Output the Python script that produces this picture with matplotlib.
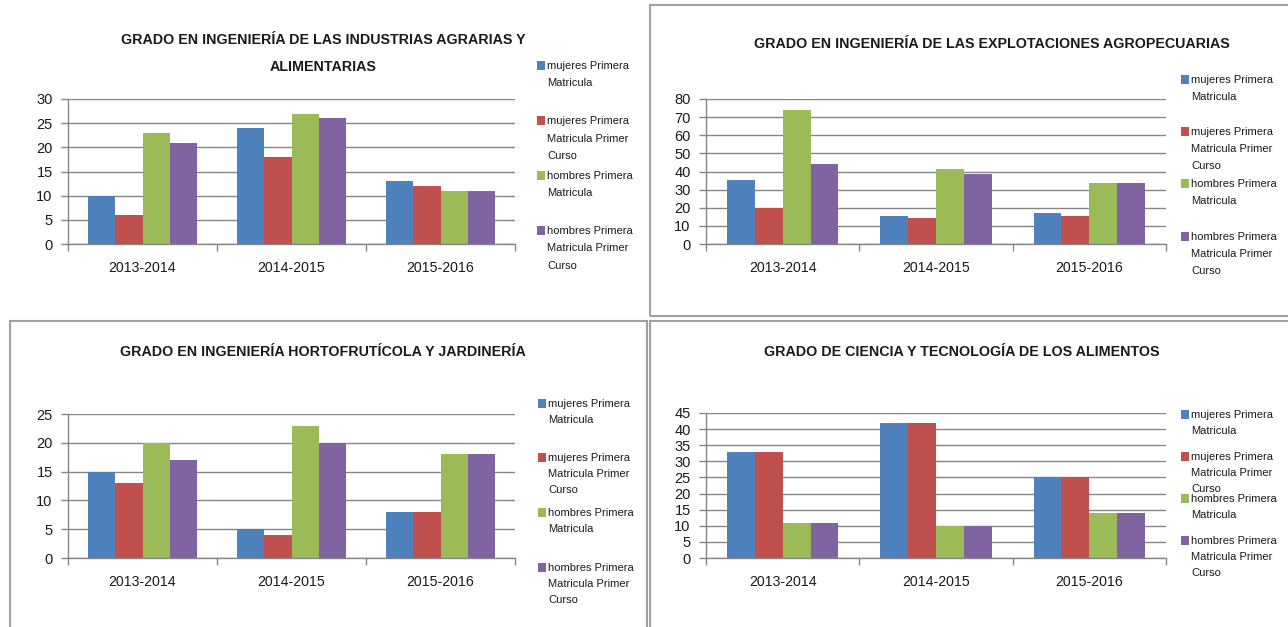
import matplotlib
matplotlib.use('Agg')
import matplotlib.pyplot as plt
from matplotlib.patches import Rectangle

plt.rcParams['font.family'] = ['Liberation Sans', 'DejaVu Sans']

W, H = 1288, 627

categories = ['2013-2014', '2014-2015', '2015-2016']
legend_labels = ['mujeres Primera\nMatricula',
                 'mujeres Primera\nMatricula Primer\nCurso',
                 'hombres Primera\nMatricula',
                 'hombres Primera\nMatricula Primer\nCurso']
colors = ['#4F81BD', '#C0504D', '#9BBB59', '#8064A2']

# Panel 1: Industrias Agrarias y Alimentarias
iaa_muj_pm = [10, 24, 13]
iaa_muj_pmpc = [6, 18, 12]
iaa_hom_pm = [23, 27, 11]
iaa_hom_pmpc = [21, 26, 11]

# Panel 2: Explotaciones Agropecuarias
eap_muj_pm = [35.3, 15.7, 17.2]
eap_muj_pmpc = [19.8, 14.3, 15.7]
eap_hom_pm = [74, 41.2, 33.9]
eap_hom_pmpc = [44.1, 38.5, 33.9]

# Panel 3: Hortofruticola y Jardineria
hyj_muj_pm = [15, 5, 8]
hyj_muj_pmpc = [13, 4, 8]
hyj_hom_pm = [20, 23, 18]
hyj_hom_pmpc = [17, 20, 18]

# Panel 4: Ciencia y Tecnologia de los Alimentos
cta_muj_pm = [33, 42, 25]
cta_muj_pmpc = [33, 42, 25]
cta_hom_pm = [11, 10, 14]
cta_hom_pmpc = [11, 10, 14]

titles = ['GRADO EN INGENIERÍA DE LAS INDUSTRIAS AGRARIAS Y\nALIMENTARIAS',
          'GRADO EN INGENIERÍA DE LAS EXPLOTACIONES AGROPECUARIAS',
          'GRADO EN INGENIERÍA HORTOFRUTÍCOLA Y JARDINERÍA',
          'GRADO DE CIENCIA Y TECNOLOGÍA DE LOS ALIMENTOS']

GRID = '#868686'
TXT = '#1a1a1a'

fig = plt.figure(figsize=(W / 100, H / 100), dpi=100)


def fx(x):
    return x / W


def fy(y):
    return 1 - y / H


def panel(box, series, ymax, ystep, title, title_xy, leg_x, leg_ys, line_sp):
    l, r, t, b = box
    ax = fig.add_axes([fx(l), fy(b), fx(r) - fx(l), fy(t) - fy(b)])
    bw = 1 / 5.5
    for j, vals in enumerate(series):
        xs = [i + 0.5 + (j - 1.5) * bw for i in range(len(categories))]
        ax.bar(xs, vals, width=bw, color=colors[j], zorder=3, linewidth=0)
    ax.set_xlim(0, 3)
    ax.set_ylim(0, ymax)
    ax.set_yticks(list(range(0, ymax + 1, ystep)))
    ax.set_xticks([0, 1, 2, 3])
    ax.set_xticklabels([])
    ax.set_xticks([0.5, 1.5, 2.5], minor=True)
    ax.set_xticklabels(categories, minor=True, fontsize=10.2, color=TXT)
    ax.tick_params(axis='x', which='major', length=5, color=GRID, width=1)
    ax.tick_params(axis='x', which='minor', length=0, pad=12)
    ax.tick_params(axis='y', length=5, color=GRID, width=1, labelsize=10.5,
                   pad=6, labelcolor=TXT)
    ax.yaxis.grid(True, color=GRID, linewidth=1, zorder=0)
    ax.set_axisbelow(True)
    for s in ['top', 'right']:
        ax.spines[s].set_visible(False)
    for s in ['left', 'bottom']:
        ax.spines[s].set_color(GRID)
        ax.spines[s].set_linewidth(1)
    ax.spines['bottom'].set_zorder(4)
    fig.text(fx(title_xy[0]), fy(title_xy[1]), title, ha='center', va='center',
             fontsize=10.3, fontweight='bold', linespacing=2.25, color=TXT)
    for j, lab in enumerate(legend_labels):
        y0 = leg_ys[j]
        fig.add_artist(Rectangle((fx(leg_x), fy(y0 + 4)), 8 / W, 9 / H,
                                 transform=fig.transFigure, facecolor=colors[j],
                                 edgecolor='none'))
        for k, line in enumerate(lab.split('\n')):
            fig.text(fx(leg_x + 10), fy(y0 + k * line_sp), line, ha='left',
                     va='center', fontsize=8, color=TXT)
    return ax


panel((68, 515, 99, 244),
      [iaa_muj_pm, iaa_muj_pmpc, iaa_hom_pm, iaa_hom_pmpc],
      30, 5, titles[0], (323, 53.5), 537, [66, 121, 176, 231], 17.5)
panel((706, 1166, 99, 244),
      [eap_muj_pm, eap_muj_pmpc, eap_hom_pm, eap_hom_pmpc],
      80, 10, titles[1], (992, 44), 1181, [80, 132, 184, 237], 17)
panel((68, 515, 414, 558),
      [hyj_muj_pm, hyj_muj_pmpc, hyj_hom_pm, hyj_hom_pmpc],
      25, 5, titles[2], (323, 352), 538, [404, 458, 513, 568], 16)
panel((706, 1166, 413, 558),
      [cta_muj_pm, cta_muj_pmpc, cta_hom_pm, cta_hom_pmpc],
      45, 5, titles[3], (962, 352), 1181, [415, 457, 499, 541], 16)

# panel borders
BORDER = '#A0A0A0'
for (x0, y0, x1, y1) in [(650, 5, 1290, 316), (10, 321, 647, 630), (650, 321, 1290, 630)]:
    fig.add_artist(Rectangle((fx(x0), fy(y1)), (x1 - x0) / W, (y1 - y0) / H,
                             transform=fig.transFigure, facecolor='none',
                             edgecolor=BORDER, linewidth=1.5))

fig.savefig('out.png', dpi=100)
